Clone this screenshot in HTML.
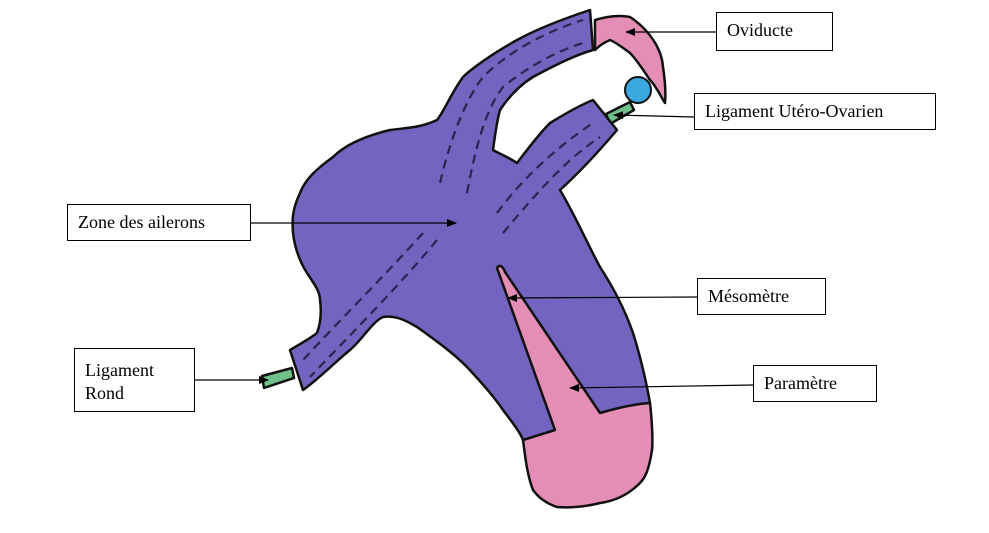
<!DOCTYPE html>
<html><head><meta charset="utf-8"><style>
html,body{margin:0;padding:0;background:#fff;}
.b{position:absolute;border:1px solid #000;background:#fff;font-family:"Liberation Serif",serif;font-size:18px;color:#000;box-sizing:border-box;padding:6px 10px;line-height:22px;}
</style></head><body>
<div style="position:relative;width:989px;height:533px;overflow:hidden;">
<svg width="989" height="533" style="position:absolute;left:0;top:0">
<defs><marker id="a" markerWidth="10" markerHeight="8" refX="9" refY="4" orient="auto" markerUnits="userSpaceOnUse"><path d="M0,0 L10,4 L0,8 Z" fill="#000"/></marker></defs>
<g stroke="#111" stroke-width="2.5" stroke-linejoin="round">
<path d="M262,376 L292,368 L294,378 L264,388 Z" fill="#6fc08a"/>
<path d="M606,114 L630,102 L634,110 L610,124 Z" fill="#6fc08a"/>
<path d="M590,10 C560,20 535,30 517,40 C490,55 470,70 463,77 C450,95 445,110 437,120 C420,128 405,128 390,130 C365,136 345,145 333,157 C315,170 305,180 300,193 C292,210 292,220 293,233 C295,250 300,262 307,273 C315,285 320,292 320,300 C322,315 320,325 317,333 C308,340 298,345 290,350 L303,390 C320,378 335,362 350,350 C362,340 372,322 383,317 C395,315 405,320 417,327 C435,340 452,352 467,367 C482,383 495,398 503,410 C512,422 520,432 523,440 L652,450 C652,430 651,415 650,403 C645,375 640,355 633,333 C625,310 613,287 600,267 C588,245 575,215 560,190 C580,172 600,150 617,130 L593,100 C578,106 563,115 550,123 C538,135 527,150 517,163 C510,158 500,154 493,150 C495,135 497,120 500,110 C510,95 520,85 533,77 C555,65 575,55 593,50 Z" fill="#7464bf"/>
<path d="M523,440 L555,430 L497,268 C499,264 503,266 505,272 L600,413 C617,408 635,404 650,403 C652,420 653,440 652,450 C649,470 645,478 640,483 C628,495 615,501 600,503 C585,507 568,508 557,507 C545,503 538,497 533,490 C527,475 525,455 523,440 Z" fill="#e48eb6"/>
<path d="M595,20 C608,16 620,15 630,17 C650,30 662,50 663,67 C665,80 666,92 665,103 C660,95 656,86 650,80 C643,70 637,60 630,53 C622,47 615,42 610,40 C603,43 598,47 595,50 Z" fill="#e48eb6"/>
<ellipse cx="638" cy="90" rx="13" ry="13" fill="#3aa9e0" stroke-width="2"/>
</g>
<g stroke="#2a2550" stroke-width="2.2" fill="none" stroke-dasharray="9,6">
<path d="M440,183 C450,140 465,100 483,77 C510,50 550,30 583,20"/>
<path d="M467,193 C475,150 485,110 503,87 C530,65 560,50 583,43"/>
<path d="M497,213 C525,175 560,145 593,123"/>
<path d="M503,233 C535,195 565,160 600,137"/>
<path d="M423,233 C390,270 340,320 303,360"/>
<path d="M437,240 C400,285 350,335 310,377"/>
</g>
<g stroke="#000" stroke-width="1.2" fill="none" marker-end="url(#a)">
<line x1="716" y1="32" x2="626" y2="32"/>
<line x1="694" y1="117" x2="614" y2="115"/>
<line x1="250" y1="223" x2="456" y2="223"/>
<line x1="697" y1="297" x2="508" y2="298"/>
<line x1="753" y1="385" x2="570" y2="388"/>
<line x1="195" y1="380" x2="268" y2="380"/>
</g>
</svg>
<div class="b" style="left:716px;top:12px;width:117px;height:39px;">Oviducte</div>
<div class="b" style="left:694px;top:93px;width:242px;height:37px;">Ligament Utéro-Ovarien</div>
<div class="b" style="left:67px;top:204px;width:184px;height:37px;">Zone des ailerons</div>
<div class="b" style="left:697px;top:278px;width:129px;height:37px;">Mésomètre</div>
<div class="b" style="left:753px;top:365px;width:124px;height:37px;">Paramètre</div>
<div class="b" style="left:74px;top:348px;width:121px;height:64px;padding-top:10px;line-height:23px;">Ligament<br>Rond</div>
</div>
</body></html>
